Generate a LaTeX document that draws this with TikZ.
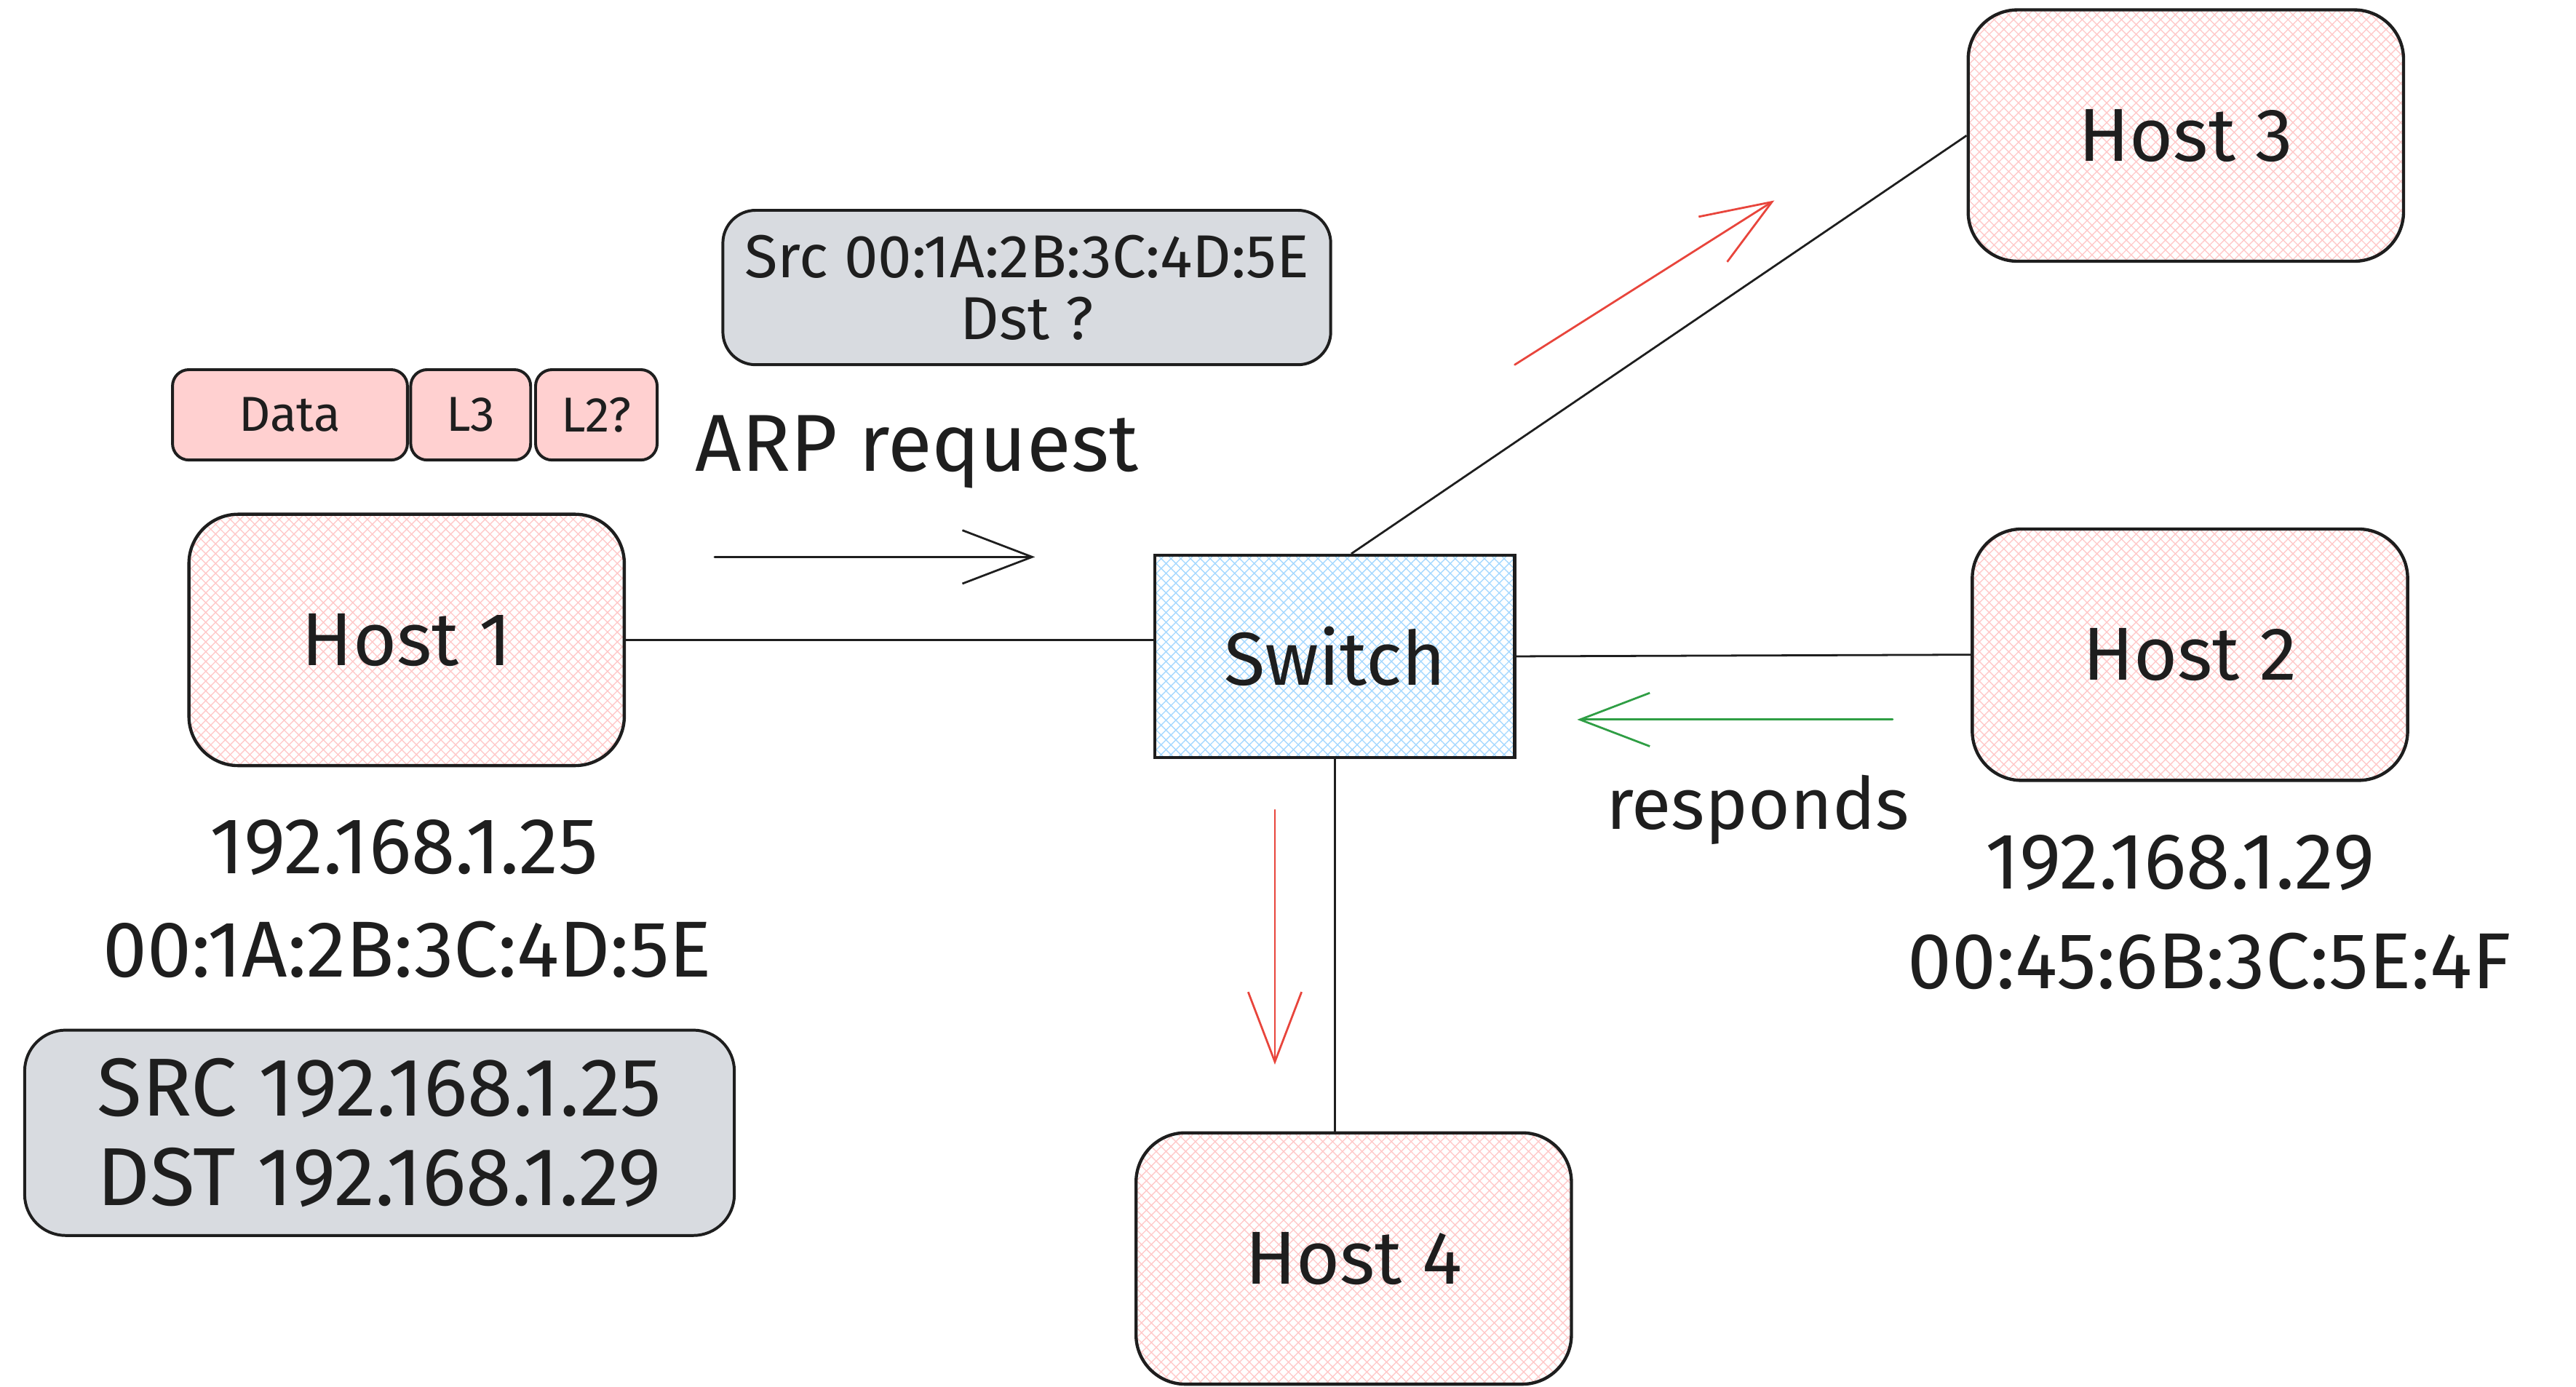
\documentclass[tikz,border=0pt]{standalone}
\usepackage{fontspec}
\setmainfont{Fira Sans}
\usepackage{tikz}
\usetikzlibrary{shapes,arrows.meta,positioning,patterns.meta}
\usepackage{xcolor}

\definecolor{ink}{HTML}{1E1E1E}
\definecolor{hatchred}{HTML}{FFC9C9}
\definecolor{hatchblue}{HTML}{A5D8FF}
\definecolor{framefill}{HTML}{FFD0D0}
\definecolor{notegray}{HTML}{D8DBE0}
\definecolor{arrowred}{HTML}{E8453C}
\definecolor{arrowgreen}{HTML}{2F9E44}

\begin{document}
\begin{tikzpicture}[
    color=ink,
    hatch/.style={preaction={pattern={Lines[angle=45,distance=2.4pt,line width=0.35pt]}, pattern color=#1},
        pattern={Lines[angle=-45,distance=2.4pt,line width=0.35pt]}, pattern color=#1},
    host/.style={rectangle, draw, line width=1.1pt, rounded corners=0.6cm, hatch=hatchred,
        minimum width=5.3cm, minimum height=3.06cm, font=\fontsize{26}{30}\selectfont},
    frame/.style={rectangle, draw, line width=1pt, rounded corners=0.2cm, fill=framefill,
        minimum height=1.1cm, font=\fontsize{17}{20}\selectfont},
    note/.style={rectangle, draw, line width=1pt, rounded corners=0.4cm, fill=notegray, align=center},
    lbl/.style={inner sep=0pt, font=\fontsize{27.5}{30}\selectfont},
    msg/.style={line width=0.7pt, line cap=round, -{Straight Barb[length=8.5mm,width=6.5mm]}},
    link/.style={line width=0.7pt}
]
    \useasboundingbox (0,0) rectangle (31.36,-16.88);

    % Hosts and switch
    \node[host] (host1) at (4.95,-7.79) {Host 1};
    \node[host] (host3) at (26.61,-1.65) {Host 3};
    \node[host] (host2) at (26.66,-7.97) {Host 2};
    \node[host] (host4) at (16.48,-15.32) {Host 4};
    \node[rectangle, draw, line width=1.1pt, hatch=hatchblue, minimum width=4.38cm, minimum height=2.46cm,
        font=\fontsize{26}{30}\selectfont] (switch) at (16.25,-7.99) {Switch};

    % Frame and headers
    \node[frame, minimum width=2.86cm] (data) at (3.53,-5.05) {Data};
    \node[frame, minimum width=1.46cm] (l3) at (5.73,-5.05) {L3};
    \node[frame, minimum width=1.48cm] (l2) at (7.26,-5.05) {L2?};
    \node[note, minimum width=7.4cm, minimum height=1.88cm, font=\fontsize{21}{21.5}\selectfont] (macnote) at (12.5,-3.5) {Src 00:1A:2B:3C:4D:5E\\Dst ?};
    \node[note, minimum width=8.64cm, minimum height=2.5cm, rounded corners=0.5cm, font=\fontsize{28.5}{31}\selectfont] (ipnote) at (4.62,-13.79) {SRC 192.168.1.25\\DST 192.168.1.29};

    % Labels
    \node[lbl, font=\fontsize{28}{32}\selectfont] (arp) at (11.16,-5.5) {ARP request};
    \node[lbl, font=\fontsize{25}{30}\selectfont] (resp) at (21.4,-9.86) {responds};
    \node[lbl] (h1ip) at (4.92,-10.32) {192.168.1.25};
    \node[lbl] (h1mac) at (4.96,-11.56) {00:1A:2B:3C:4D:5E};
    \node[lbl] (h2ip) at (26.54,-10.5) {192.168.1.29};
    \node[lbl] (h2mac) at (26.9,-11.7) {00:45:6B:3C:5E:4F};

    % Links
    \draw[link] (host1.east) -- (host1.east -| switch.west);
    \draw[link] ([xshift=2mm]switch.north) -- (host3.west);
    \draw[link] (switch.east) -- (host2.west);
    \draw[link] (switch.south) -- (switch.south |- host4.north);

    % Messages
    \coordinate (reqA) at (8.7,-6.78);
    \coordinate (reqB) at (12.6,-6.78);
    \coordinate (upA) at (18.44,-4.44);
    \coordinate (upB) at (21.6,-2.44);
    \coordinate (respA) at (23.04,-8.76);
    \coordinate (respB) at (19.2,-8.76);
    \coordinate (downA) at (15.52,-9.86);
    \coordinate (downB) at (15.52,-12.96);
    \draw[msg] (reqA) -- (reqB);
    \draw[msg, arrowred] (upA) -- (upB);
    \draw[msg, arrowgreen] (respA) -- (respB);
    \draw[msg, arrowred] (downA) -- (downB);
\end{tikzpicture}
\end{document}
